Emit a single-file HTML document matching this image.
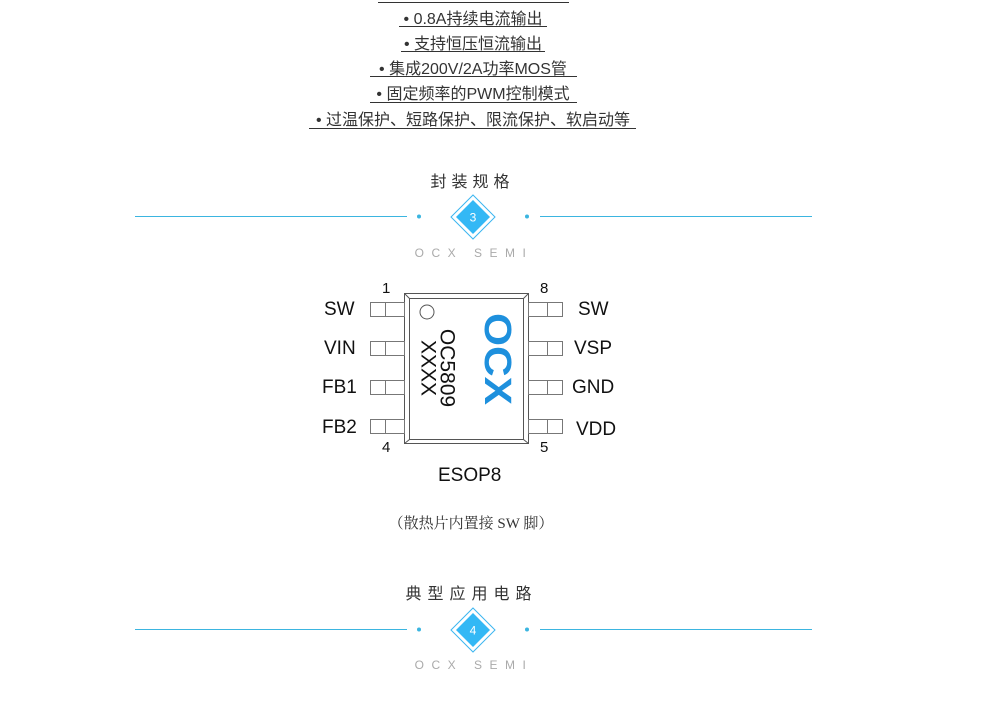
<!DOCTYPE html>
<html><head><meta charset="utf-8"><style>
body{margin:0;width:986px;height:701px;background:#fff;position:relative;overflow:hidden;font-family:"Liberation Sans","Noto Sans CJK SC",sans-serif}
.a{position:absolute;white-space:nowrap}
.b{font-size:16px;color:#333;text-align:center;left:0;width:946px}
.ul{position:absolute;height:1px;background:#333}
.t{font-size:16px;color:#333;letter-spacing:5px;text-align:center;left:0;width:951px}
.s{font-size:12px;color:#aaa;letter-spacing:7.5px;text-align:center;left:0;width:948px}
.p{font-size:19px;color:#111}
</style></head><body>
<div class="ul" style="left:378px;top:2px;width:191px"></div>
<div class="a b" style="top:5px">• 0.8A持续电流输出</div><div class="ul" style="left:399px;top:26px;width:148px"></div>
<div class="a b" style="top:30px">• 支持恒压恒流输出</div><div class="ul" style="left:401px;top:51px;width:144px"></div>
<div class="a b" style="top:55px">• 集成200V/2A功率MOS管</div><div class="ul" style="left:370px;top:76px;width:207px"></div>
<div class="a b" style="top:80px">• 固定频率的PWM控制模式</div><div class="ul" style="left:370px;top:102px;width:207px"></div>
<div class="a b" style="top:106px">• 过温保护、短路保护、限流保护、软启动等</div><div class="ul" style="left:309px;top:128px;width:327px"></div>

<div class="a t" style="top:168px;left:-3px">封装规格</div>
<div class="a s" style="top:246px">OCX SEMI</div>
<div class="a t" style="top:580px;left:-4px;letter-spacing:6px">典型应用电路</div>
<div class="a s" style="top:658px">OCX SEMI</div>

<svg class="a" style="left:0;top:0" width="986" height="701">
<g>
<line x1="135" y1="216.5" x2="407" y2="216.5" stroke="#3bb5e0" stroke-width="1"/>
<line x1="540" y1="216.5" x2="812" y2="216.5" stroke="#3bb5e0" stroke-width="1"/>
<circle cx="419" cy="216.5" r="2" fill="#3bb5e0"/><circle cx="527" cy="216.5" r="2" fill="#3bb5e0"/>
<polygon points="473,195 495,217 473,239 451,217" fill="none" stroke="#3bb5f0" stroke-width="1"/>
<polygon points="473,200 490,217 473,234 456,217" fill="#33b8f5"/>
<text x="473" y="221.5" font-size="12" fill="#fff" text-anchor="middle" font-family="Liberation Sans">3</text>
</g>
<g transform="translate(0,413)">
<line x1="135" y1="216.5" x2="407" y2="216.5" stroke="#3bb5e0" stroke-width="1"/>
<line x1="540" y1="216.5" x2="812" y2="216.5" stroke="#3bb5e0" stroke-width="1"/>
<circle cx="419" cy="216.5" r="2" fill="#3bb5e0"/><circle cx="527" cy="216.5" r="2" fill="#3bb5e0"/>
<polygon points="473,195 495,217 473,239 451,217" fill="none" stroke="#3bb5f0" stroke-width="1"/>
<polygon points="473,200 490,217 473,234 456,217" fill="#33b8f5"/>
<text x="473" y="221.5" font-size="12" fill="#fff" text-anchor="middle" font-family="Liberation Sans">4</text>
</g>
<g stroke="#555" fill="none" stroke-width="1">
<rect x="404.5" y="293.5" width="124" height="150"/>
<rect x="409.5" y="298.5" width="114" height="141"/>
<line x1="404.5" y1="293.5" x2="409.5" y2="298.5"/><line x1="528.5" y1="293.5" x2="523.5" y2="298.5"/>
<line x1="404.5" y1="443.5" x2="409.5" y2="439.5"/><line x1="528.5" y1="443.5" x2="523.5" y2="439.5"/>
<circle cx="427" cy="312" r="7"/>
</g>
<g stroke="#777" fill="none" stroke-width="1">
<rect x="370.5" y="302.5" width="34" height="14"/><line x1="385.5" y1="302" x2="385.5" y2="317"/>
<rect x="370.5" y="341.5" width="34" height="14"/><line x1="385.5" y1="341" x2="385.5" y2="356"/>
<rect x="370.5" y="380.5" width="34" height="14"/><line x1="385.5" y1="380" x2="385.5" y2="395"/>
<rect x="370.5" y="419.5" width="34" height="14"/><line x1="385.5" y1="419" x2="385.5" y2="434"/>
<rect x="528.5" y="302.5" width="34" height="14"/><line x1="547.5" y1="302" x2="547.5" y2="317"/>
<rect x="528.5" y="341.5" width="34" height="14"/><line x1="547.5" y1="341" x2="547.5" y2="356"/>
<rect x="528.5" y="380.5" width="34" height="14"/><line x1="547.5" y1="380" x2="547.5" y2="395"/>
<rect x="528.5" y="419.5" width="34" height="14"/><line x1="547.5" y1="419" x2="547.5" y2="434"/>
</g>
<g font-family="Liberation Sans" fill="#111">
<text x="447" y="368" transform="rotate(90 447 368)" font-size="21" text-anchor="middle" dominant-baseline="central">OC5809</text>
<text x="428" y="368" transform="rotate(90 428 368)" font-size="21" text-anchor="middle" dominant-baseline="central">XXXX</text>
<text x="497" y="359" transform="rotate(90 497 359)" font-size="38" font-weight="bold" fill="#1e90dd" text-anchor="middle" dominant-baseline="central" textLength="92" lengthAdjust="spacingAndGlyphs">OCX</text>
</g>
</svg>
<div class="a p" style="left:324px;top:299px">SW</div>
<div class="a p" style="left:324px;top:338px">VIN</div>
<div class="a p" style="left:322px;top:377px">FB1</div>
<div class="a p" style="left:322px;top:417px">FB2</div>
<div class="a p" style="left:578px;top:299px">SW</div>
<div class="a p" style="left:574px;top:338px">VSP</div>
<div class="a p" style="left:572px;top:377px">GND</div>
<div class="a p" style="left:576px;top:419px">VDD</div>
<div class="a" style="left:382px;top:280px;font-size:15px;color:#111">1</div>
<div class="a" style="left:540px;top:280px;font-size:15px;color:#111">8</div>
<div class="a" style="left:382px;top:439px;font-size:15px;color:#111">4</div>
<div class="a" style="left:540px;top:439px;font-size:15px;color:#111">5</div>
<div class="a p" style="left:438px;top:465px">ESOP8</div>
<div class="a" style="left:0;width:942px;text-align:center;top:512px;font-size:15px;color:#333;font-family:'Liberation Serif','Noto Serif CJK SC',serif">（散热片内置接 SW 脚）</div>
</body></html>
